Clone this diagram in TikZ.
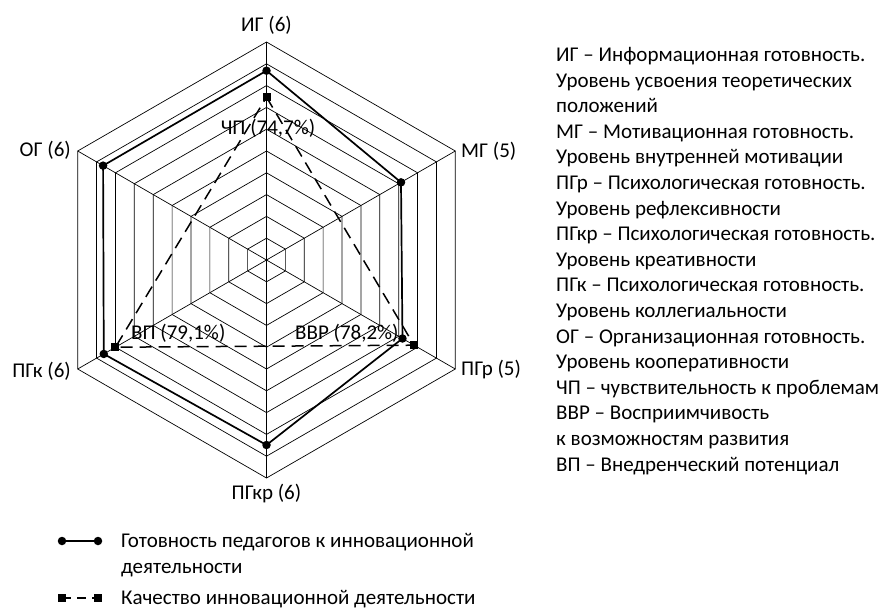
\documentclass[tikz,border=0pt]{standalone}
\usepackage{fontspec}
\setmainfont{Carlito}
\begin{document}
\begin{tikzpicture}[x=1pt,y=1pt,
  gridline/.style={draw=black,line width=0.7pt},
  solidser/.style={draw=black,line width=1.7pt,line join=round},
  dashser/.style={draw=black,line width=1.5pt,dash pattern=on 12pt off 7pt},
  dotmark/.style={circle,fill=black,inner sep=0pt,minimum size=8.5pt},
  sqmark/.style={rectangle,fill=black,inner sep=0pt,minimum size=8pt},
  lbl/.style={font=\fontsize{21}{25}\selectfont,inner sep=0pt},
  txt/.style={font=\fontsize{21}{25}\selectfont,inner sep=0pt,anchor=base west}]
\useasboundingbox (0,0) rectangle (885,-610);
\fill[white] (0,0) rectangle (885,-610);
\coordinate (O) at (266.5,-260);
\begin{scope}[shift={(266.5,-260)}]
  % grid rings
  \foreach \k in {1,...,10}{
    \pgfmathsetmacro{\r}{\k*21.8}
    \draw[gridline] (90:\r) -- (30:\r) -- (-30:\r) -- (-90:\r) -- (-150:\r) -- (150:\r) -- cycle;
  }
  % axes
  \foreach \a [count=\i] in {90,30,-30,-90,-150,150}{
    \coordinate (V\i) at (\a:218);
    \draw[gridline] (O) -- (V\i);
  }
  % solid series points
  \coordinate (s1) at (90:189.3);
  \coordinate (s2) at (30:155.3);
  \coordinate (s3) at (-30:157);
  \coordinate (s4) at (-90:185);
  \coordinate (s5) at (-150:187.9);
  \coordinate (s6) at (150:188.7);
  % dashed series points
  \coordinate (d1) at (90:162.8);
  \coordinate (d2) at (-30:170.4);
  \coordinate (d3) at (-150:174.4);
\end{scope}
\draw[solidser] (s1) -- (s2) -- (s3) -- (s4) -- (s5) -- (s6) -- cycle;
\draw[dashser] (d1) -- (d2) -- (d3) -- cycle;
\foreach \i in {1,...,6}{ \node[dotmark] (ms\i) at (s\i) {}; }
\foreach \i in {1,...,3}{ \node[sqmark] (md\i) at (d\i) {}; }
% axis labels
\node[lbl,anchor=base] (lIG) at (266.5,-31.5) {ИГ (6)};
\node[lbl,anchor=base west] (lMG) at (461,-157.5) {МГ (5)};
\node[lbl,anchor=base west] (lPGr) at (461,-375.5) {ПГр (5)};
\node[lbl,anchor=base] (lPGkr) at (266.5,-499.5) {ПГкр (6)};
\node[lbl,anchor=base east] (lPGk) at (71,-377) {ПГк (6)};
\node[lbl,anchor=base east] (lOG) at (71,-156.5) {ОГ (6)};
% point labels
\node[lbl,anchor=base] (lCP) at (268,-134.5) {ЧП (74,7\%)};
\node[lbl,anchor=base west] (lVP) at (131,-339.5) {ВП (79,1\%)};
\node[lbl,anchor=base west] (lVVR) at (295,-339.5) {ВВР (78,2\%)};
% right-hand explanation
\foreach \t [count=\i] in {
  ИГ – Информационная готовность.,
  Уровень усвоения теоретических,
  положений,
  МГ – Мотивационная готовность.,
  Уровень внутренней мотивации,
  ПГр – Психологическая готовность.,
  Уровень рефлексивности,
  ПГкр – Психологическая готовность.,
  Уровень креативности,
  ПГк – Психологическая готовность.,
  Уровень коллегиальности,
  ОГ – Организационная готовность.,
  Уровень кооперативности,
  ЧП – чувствительность к проблемам,
  ВВР – Восприимчивость,
  к возможностям развития,
  ВП – Внедренческий потенциал}{
  \node[txt] (t\i) at (556,{-61.5-(\i-1)*25.6}) {\t};
}
% legend
\coordinate (la1) at (62,-541);
\coordinate (lb1) at (98,-541);
\coordinate (la2) at (62,-598);
\coordinate (lb2) at (98,-598);
\draw[solidser] (la1) -- (lb1);
\node[dotmark] (lga) at (la1) {};
\node[dotmark] (lgb) at (lb1) {};
\draw[dashser,dash pattern=on 9pt off 6pt] (la2) -- (lb2);
\node[sqmark] (lqa) at (la2) {};
\node[sqmark] (lqb) at (lb2) {};
\node[txt] (lg1) at (121,-547.5) {Готовность педагогов к инновационной};
\node[txt] (lg2) at (121,-573) {деятельности};
\node[txt] (lg3) at (121,-604.5) {Качество инновационной деятельности};
\end{tikzpicture}
\end{document}
